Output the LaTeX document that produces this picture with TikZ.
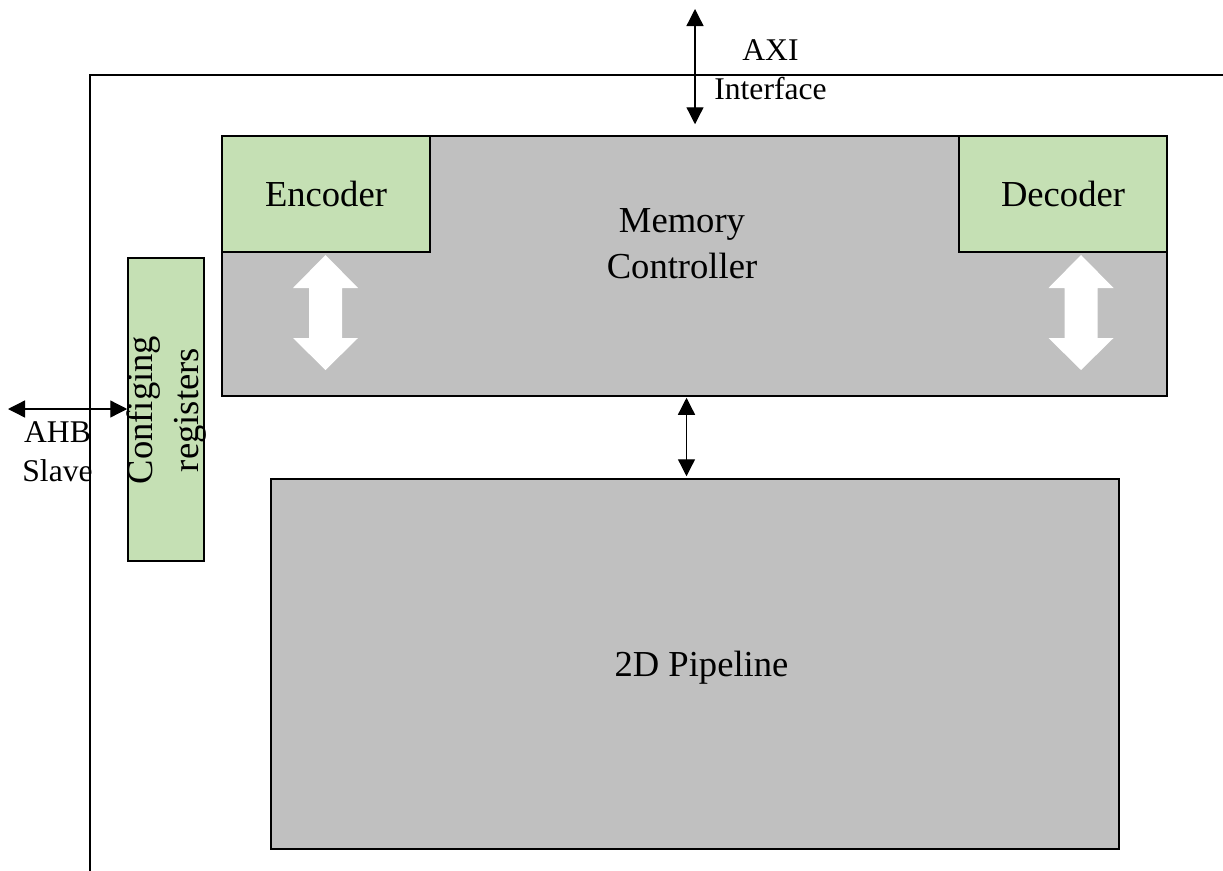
\documentclass[tikz,border=0pt]{standalone}
\usepackage{fontspec}
\setmainfont{Liberation Serif}
\usepackage{xcolor}
\usetikzlibrary{arrows.meta}

\definecolor{memgray}{HTML}{C0C0C0}
\definecolor{regreen}{HTML}{C5E0B4}

\newcommand{\bigfont}{\fontsize{36.6}{46}\selectfont}
\newcommand{\smallfont}{\fontsize{31.6}{39}\selectfont}

\tikzset{
  block/.style={draw, line width=1.5pt, inner sep=0pt, font=\bigfont},
  graybox/.style={block, fill=memgray},
  greenbox/.style={block, fill=regreen},
  link/.style={{Triangle[length=17pt,width=17pt]}-{Triangle[length=17pt,width=17pt]}, line width=1.3pt},
  busarrow/.pic={
    \fill[white] (0,0) -- (32.5,33) -- (16.5,33) -- (16.5,83) -- (32.5,83) -- (0,115)
      -- (-32.5,83) -- (-16.5,83) -- (-16.5,33) -- (-32.5,33) -- cycle;
  }
}

\begin{document}
\begin{tikzpicture}[x=1pt, y=-1pt]
        \useasboundingbox (0,0) rectangle (1223,870);

        % Chip outline (open to the right and bottom)
        \draw[line width=1.5pt] (1240,75) -- (90,75) -- (90,880);

        % Memory controller with encoder and decoder
        \node[graybox, minimum width=945pt, minimum height=260pt] (mc) at (694.5,266) {};
        \node[font=\bigfont, align=center, inner sep=0pt] (mctext) at (682,244) {Memory\\Controller};
        \node[greenbox, minimum width=208pt, minimum height=116pt] (enc) at (326,194) {Encoder};
        \node[greenbox, minimum width=208pt, minimum height=116pt] (dec) at (1063,194) {Decoder};

        % White bus arrows under encoder / decoder
        \pic at (325.5,255) {busarrow};
        \pic at (1081,255) {busarrow};

        % Configuration registers
        \node[greenbox, minimum width=76pt, minimum height=303pt] (cfg) at (166,409.5) {};
        \node[font=\bigfont, align=center, inner sep=0pt, rotate=90] (cfgtext) at (167,410) {Configing\\registers};

        % 2D pipeline
        \node[graybox, minimum width=848pt, minimum height=370pt] (pipe) at (695,664) {};
        \node[font=\bigfont, anchor=base, inner sep=0pt] (pipetext) at (701.5,676) {2D Pipeline};

        % External interfaces
        \coordinate (axi) at (695,9);
        \draw[link, shorten >=11pt] (axi) -- (axi |- mc.north);
        \node[font=\smallfont, align=center, inner sep=0pt] (axitext) at (770.5,69.5) {AXI\\Interface};

        \coordinate (ahb) at (8,409);
        \draw[link] (ahb) -- (ahb -| cfg.west);
        \node[font=\smallfont, align=center, inner sep=0pt] (ahbtext) at (57.5,452) {AHB\\Slave};

        % Controller <-> pipeline
        \draw[link, shorten <=1pt, shorten >=2pt] ([xshift=-8pt]mc.south) -- ([xshift=-8pt]mc.south |- pipe.north);
\end{tikzpicture}
\end{document}
